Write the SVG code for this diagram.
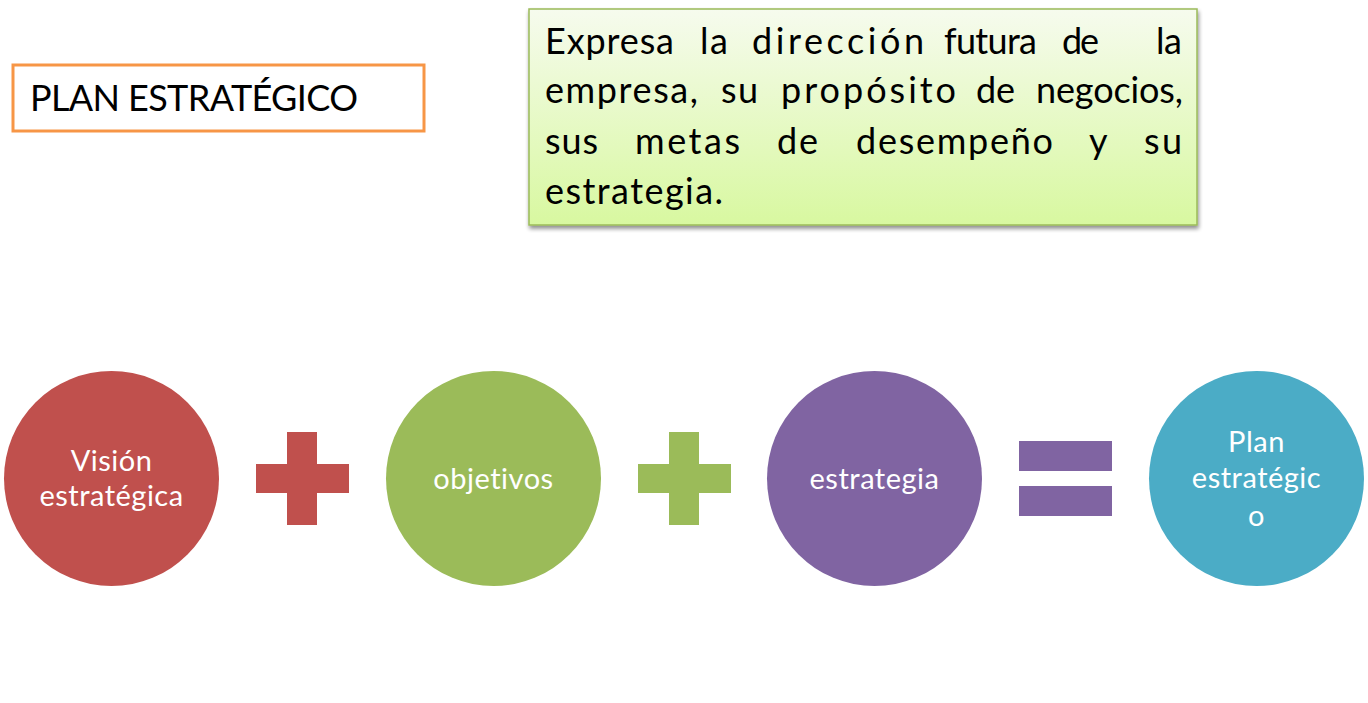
<svg xmlns="http://www.w3.org/2000/svg" width="1368" height="703" viewBox="0 0 1368 703">
<defs>
<linearGradient id="gg" x1="0" y1="0" x2="0" y2="1">
<stop offset="0" stop-color="#F6FBEE"/>
<stop offset="1" stop-color="#D8F8A0"/>
</linearGradient>
<filter id="sh" x="-5%" y="-5%" width="110%" height="115%">
<feGaussianBlur in="SourceAlpha" stdDeviation="2"/>
<feOffset dx="1" dy="3" result="b"/>
<feComponentTransfer><feFuncA type="linear" slope="0.45"/></feComponentTransfer>
<feMerge><feMergeNode/><feMergeNode in="SourceGraphic"/></feMerge>
</filter>
</defs>
<style>
.t{font-family:Lato,"Open Sans","Liberation Sans",sans-serif;}
.big{font-size:36px;fill:#000;}
.c{font-size:29px;fill:#fff;text-anchor:middle;letter-spacing:0.5px;}
</style>
<rect width="1368" height="703" fill="#fff"/>
<g id="title">
<rect x="13" y="65" width="411" height="66" fill="#fff" stroke="#F79646" stroke-width="3"/>
<text class="t" x="30" y="111" font-size="36" fill="#000" textLength="328" lengthAdjust="spacing">PLAN ESTRATÉGICO</text>
</g>
<g id="description">
<rect x="529" y="9" width="668" height="216" fill="url(#gg)" stroke="#9BBB59" stroke-width="1.5" filter="url(#sh)"/>
<text class="t big" x="545" y="54" textLength="129" lengthAdjust="spacing">Expresa</text>
<text class="t big" x="700" y="54" textLength="28" lengthAdjust="spacing">la</text>
<text class="t big" x="752" y="54" textLength="172" lengthAdjust="spacing">dirección</text>
<text class="t big" x="944" y="54" textLength="93" lengthAdjust="spacing">futura</text>
<text class="t big" x="1062" y="54" textLength="37" lengthAdjust="spacing">de</text>
<text class="t big" x="1156" y="54" textLength="26" lengthAdjust="spacing">la</text>
<text class="t big" x="545" y="103" textLength="153" lengthAdjust="spacing">empresa,</text>
<text class="t big" x="721" y="103" textLength="37" lengthAdjust="spacing">su</text>
<text class="t big" x="781" y="103" textLength="175" lengthAdjust="spacing">propósito</text>
<text class="t big" x="976" y="103" textLength="39" lengthAdjust="spacing">de</text>
<text class="t big" x="1036" y="103" textLength="147" lengthAdjust="spacing">negocios,</text>
<text class="t big" x="545" y="154" textLength="53" lengthAdjust="spacing">sus</text>
<text class="t big" x="635" y="154" textLength="105" lengthAdjust="spacing">metas</text>
<text class="t big" x="777" y="154" textLength="41" lengthAdjust="spacing">de</text>
<text class="t big" x="856" y="154" textLength="197" lengthAdjust="spacing">desempeño</text>
<text class="t big" x="1089" y="154" textLength="21" lengthAdjust="spacing">y</text>
<text class="t big" x="1144" y="154" textLength="38" lengthAdjust="spacing">su</text>
<text class="t big" x="545" y="204" textLength="178" lengthAdjust="spacing">estrategia.</text>
</g>
<g id="vision">
<circle cx="111.5" cy="478.5" r="107.5" fill="#C0504D"/>
<text class="t c" x="111.5" y="471">Visión</text>
<text class="t c" x="111.5" y="506">estratégica</text>
</g>
<g id="objetivos">
<circle cx="493.5" cy="478.5" r="107.5" fill="#9BBB59"/>
<text class="t c" x="493.5" y="489">objetivos</text>
</g>
<g id="estrategia">
<circle cx="874.5" cy="478.5" r="107.5" fill="#8064A2"/>
<text class="t c" x="874.5" y="489">estrategia</text>
</g>
<g id="plan">
<circle cx="1256.5" cy="478.5" r="107.5" fill="#4BACC6"/>
<text class="t c" x="1256.5" y="452">Plan</text>
<text class="t c" x="1256.5" y="488">estratégic</text>
<text class="t c" x="1256.5" y="526">o</text>
</g>
<g id="connectors">
<path d="M287 432h30v32h32v29h-32v32h-30v-32h-31v-29h31z" fill="#C0504D"/>
<path d="M669 432h30v32h32v29h-32v32h-30v-32h-31v-29h31z" fill="#9BBB59"/>
<rect x="1019" y="441" width="93" height="30" fill="#8064A2"/>
<rect x="1019" y="486" width="93" height="30" fill="#8064A2"/>
</g>
</svg>
